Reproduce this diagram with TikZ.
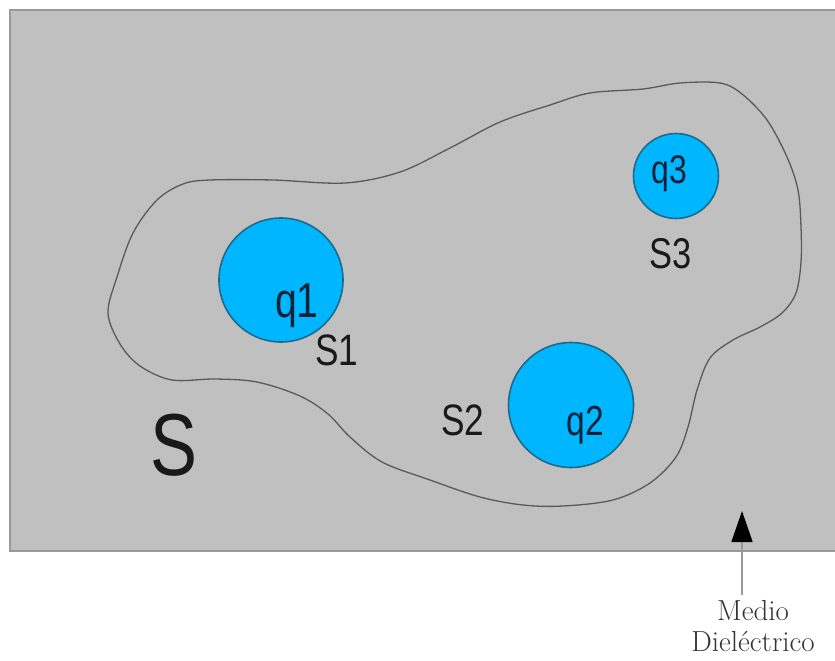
\documentclass[tikz,border=0pt]{standalone}
\usepackage{fontspec}
\usetikzlibrary{arrows.meta}
\newfontfamily\labelfont[FakeStretch=0.8]{Liberation Sans}
\definecolor{medium}{HTML}{C0C0C0}
\definecolor{mediumedge}{HTML}{9A9A9A}
\definecolor{chargefill}{HTML}{00B6FF}
\definecolor{chargeedge}{HTML}{1E6A8C}
\definecolor{chargetext}{HTML}{0B2238}
\definecolor{surface}{HTML}{5A5A5A}
\tikzset{
  charge/.style={circle, fill=chargefill, draw=chargeedge, line width=1.6pt, inner sep=0pt},
  qlabel/.style={anchor=base, inner sep=0pt, text=chargetext},
  slabel/.style={anchor=base, inner sep=0pt, text=black!90},
}
\newcommand{\lblsize}[1]{\labelfont\fontsize{#1}{#1}\selectfont}
\begin{document}
\begin{tikzpicture}[x=1pt, y=-1pt]
\useasboundingbox (0,0) rectangle (835,661);
% dielectric medium
\begin{scope}
\clip (0,0) rectangle (835,661);
\draw[fill=medium, draw=mediumedge, line width=1.6pt] (10,10) rectangle (845,551);
\end{scope}
% closed Gaussian surface
\draw[surface, line width=1.3pt] plot[smooth cycle, tension=0.55] coordinates {
  (108,313) (117,277) (133,233) (157,200) (183,184) (210,180) (273,180) (345,183)
  (400,172) (450,148) (500,122) (550,105) (590,93) (643,89) (680,83) (720,83)
  (742,94) (767,120) (787,157) (798,190) (801,227) (801,262) (796,293) (782,313)
  (760,327) (733,340) (710,358) (697,390) (688,427) (676,457) (650,483) (613,500)
  (563,506) (523,505) (480,497) (430,480) (382,462) (350,437) (328,414) (300,396)
  (257,382) (215,379) (172,380) (140,366) (120,344)};
% charges
\node[charge, minimum size=124pt] (c1) at (281,280) {};
\node[charge, minimum size=125pt] (c2) at (571,405) {};
\node[charge, minimum size=85pt] (c3) at (676,176) {};
% charge labels
\node[qlabel] (q1) at (297,317) {\lblsize{49}q1};
\node[qlabel] (q2) at (585,435) {\lblsize{42}q2};
\node[qlabel] (q3) at (669,183) {\lblsize{40}q3};
% surface labels
\node[slabel] (s1) at (337,365) {\lblsize{44}S1};
\node[slabel] (s2) at (463,435) {\lblsize{44}S2};
\node[slabel] (s3) at (671,268) {\lblsize{43}S3};
\node[slabel] (s) at (174,475) {\lblsize{88}S};
% medium annotation
\node[anchor=north, align=center, inner sep=0pt, text=black!80,
      font=\fontsize{29}{31}\selectfont] (medio) at (753,600) {Medio\\Dieléctrico};
\coordinate (arrowfoot) at (742,595);
\coordinate (arrowtip) at (742,511);
\draw[black!40, line width=1.6pt, -{Triangle[length=31pt, width=21pt, color=black]}] (arrowfoot) -- (arrowtip);
\end{tikzpicture}
\end{document}
